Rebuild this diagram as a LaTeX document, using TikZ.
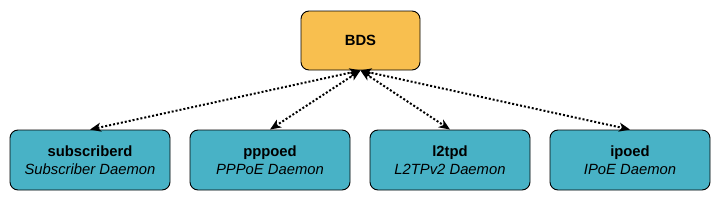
\documentclass[tikz,border=0pt]{standalone}
\usepackage{fontspec}
\setmainfont{Liberation Sans}
\usepackage{tikz}
\usetikzlibrary{positioning,arrows.meta}
\definecolor{bdsorange}{HTML}{F8BF4F}
\definecolor{dmnteal}{HTML}{48B2C6}
\tikzset{
  boxbase/.style={draw=black,line width=0.9pt,rounded corners=8pt,align=center,
    font=\fontsize{14.8}{18}\selectfont,inner sep=0pt},
  bdsbox/.style={boxbase,fill=bdsorange,minimum width=119pt,minimum height=59pt},
  dmnbox/.style={boxbase,fill=dmnteal,minimum width=160pt,minimum height=60pt},
  dlink/.style={{Stealth[length=11pt,width=9pt,inset=3pt]}-{Stealth[length=11pt,width=9pt,inset=3pt]},
    line width=2pt,dash pattern=on 2pt off 2pt},
}
\begin{document}
\begin{tikzpicture}[x=1pt,y=-1pt]
  \useasboundingbox (0,0) rectangle (721,201);
  \node[bdsbox] (bds) at (360.5,40.5) {\textbf{BDS}};
  % daemons
  \node[dmnbox] (subd) at (90,160) {\textbf{subscriberd}\\\textit{Subscriber Daemon}};
  \node[dmnbox] (pppd) at (270,160) {\textbf{pppoed}\\\textit{PPPoE Daemon}};
  \node[dmnbox] (l2tp) at (450,160) {\textbf{l2tpd}\\\textit{L2TPv2 Daemon}};
  \node[dmnbox] (ipod) at (630,160) {\textbf{ipoed}\\\textit{IPoE Daemon}};
  \foreach \d in {subd,pppd,l2tp,ipod}
    \draw[dlink] (bds.south) -- (\d.north);
\end{tikzpicture}
\end{document}
